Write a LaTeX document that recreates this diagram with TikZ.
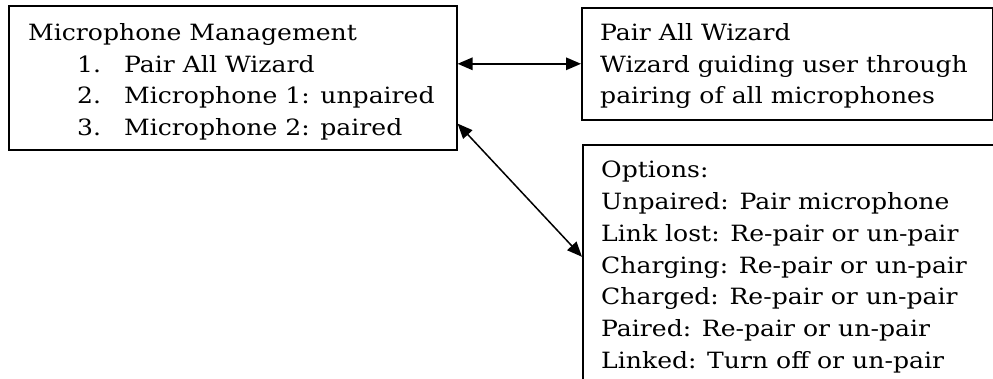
\documentclass[tikz,border=0pt]{standalone}
\usepackage{fontspec}
\setmainfont{DejaVu Serif}[FakeStretch=1.12]
\usetikzlibrary{arrows.meta,calc}
\newcommand{\diafont}{\fontsize{22.4}{31.7}\selectfont}
\begin{document}
\begin{tikzpicture}[x=1pt,y=-1pt,
  box/.style={draw, line width=1.6pt, inner sep=0pt, anchor=north west},
  txt/.style={inner sep=0pt, anchor=base west, font=\diafont},
  link/.style={{Triangle[length=15pt,width=12.5pt]}-{Triangle[length=15pt,width=12.5pt]}, line width=1.5pt}]
\useasboundingbox (0,0) rectangle (993,379);
\clip (0,0) rectangle (993,379);
% boxes
\node[box, minimum width=448pt, minimum height=144pt] (mm) at (8,5) {};
\node[box, minimum width=410.5pt, minimum height=112pt] (pw) at (581,7) {};
\node[box, minimum width=450pt, minimum height=256pt] (op) at (582,144) {};
% left box text
\node[txt] (mmt) at (28,41) {Microphone Management};
\node[txt] (n1) at (77,72.5) {1.};
\node[txt] (l1) at (124,72.5) {Pair All Wizard};
\node[txt] (n2) at (77,104) {2.};
\node[txt] (l2) at (124,104) {Microphone 1: unpaired};
\node[txt] (n3) at (77,135.5) {3.};
\node[txt] (l3) at (124,135.5) {Microphone 2: paired};
% top right text
\node[txt] (pw1) at (600,41) {Pair All Wizard};
\node[txt] (pw2) at (600,72.5) {Wizard guiding user through};
\node[txt] (pw3) at (600,104) {pairing of all microphones};
% options text
\node[txt] (o1) at (601,178) {Options:};
\node[txt] (o2) at (601,209.7) {Unpaired: Pair microphone};
\node[txt] (o3) at (601,241.4) {Link lost: Re-pair or un-pair};
\node[txt] (o4) at (601,273.1) {Charging: Re-pair or un-pair};
\node[txt] (o5) at (601,304.8) {Charged: Re-pair or un-pair};
\node[txt] (o6) at (601,336.5) {Paired: Re-pair or un-pair};
\node[txt] (o7) at (601,368.2) {Linked: Turn off or un-pair};
% connectors
\draw[link] (mm.east |- pw.west) -- (pw.west);
\draw[link] ([yshift=27pt]mm.south east) -- ([yshift=16pt]op.west);
\end{tikzpicture}
\end{document}
